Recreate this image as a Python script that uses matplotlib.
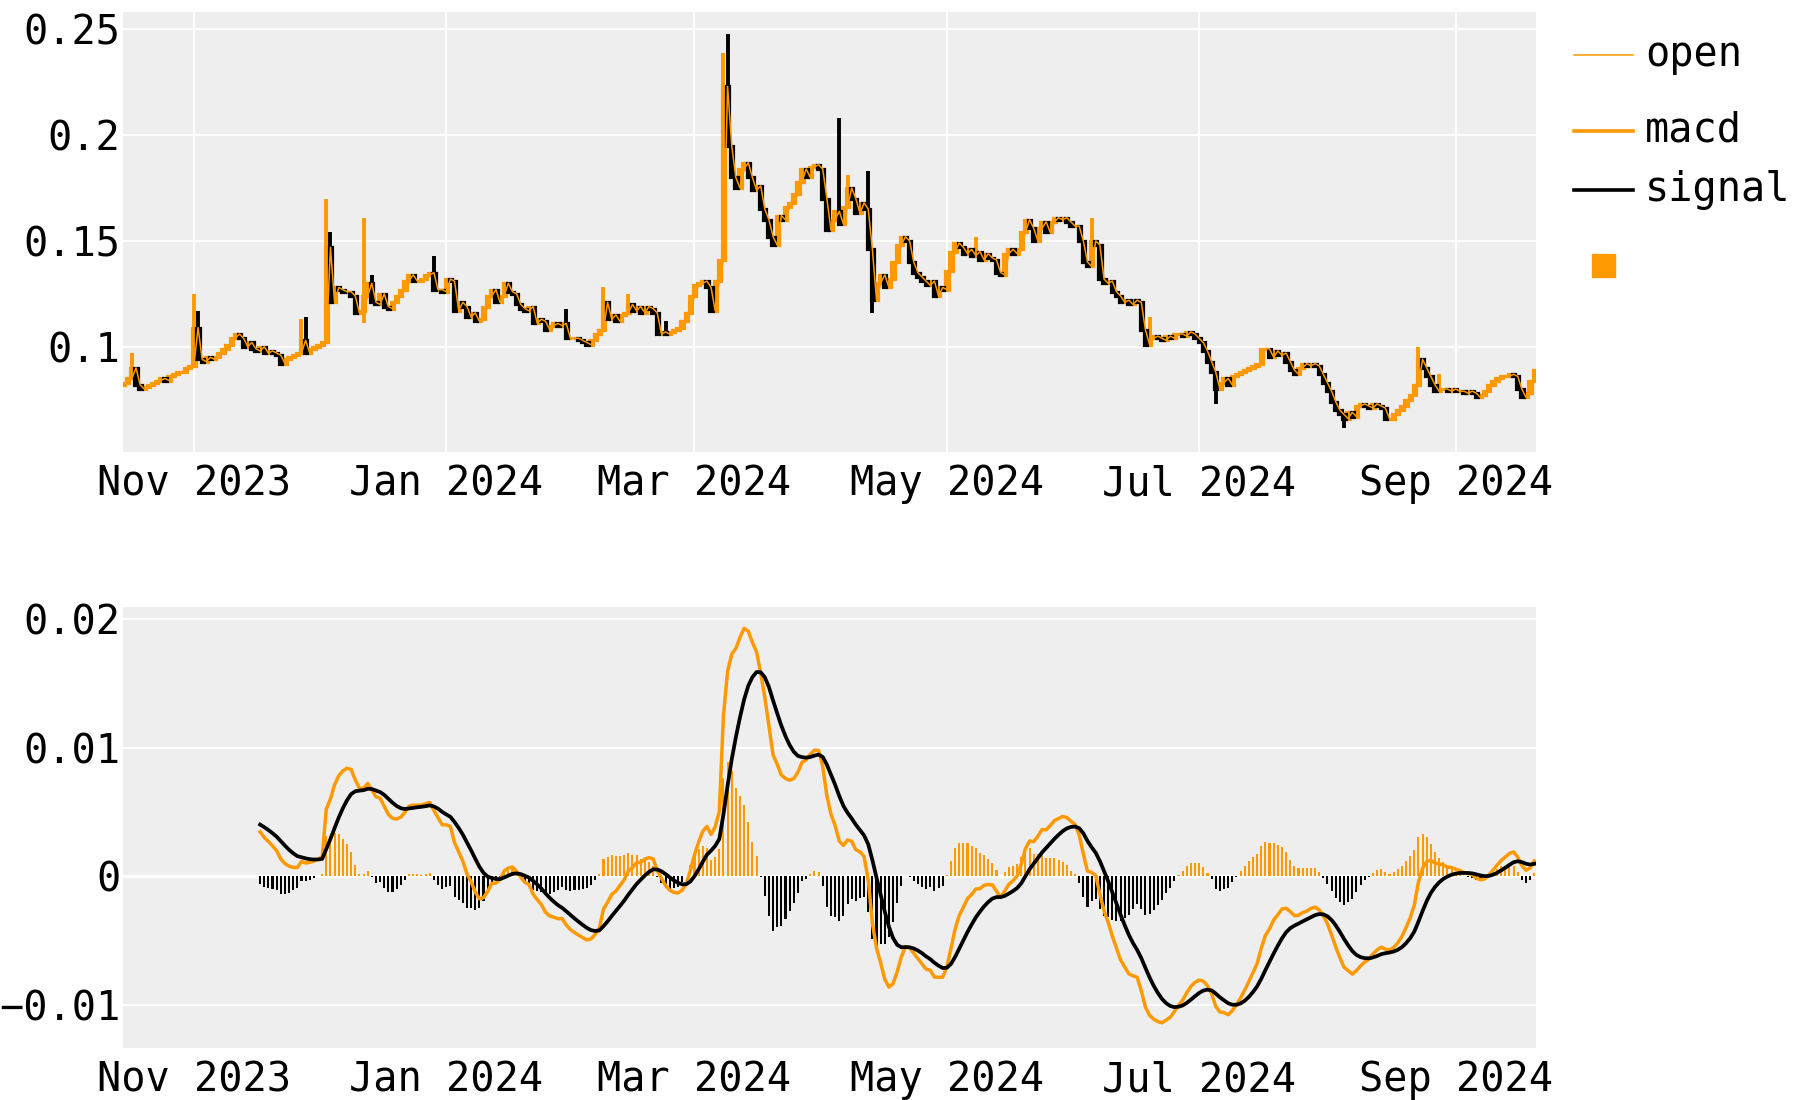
import matplotlib
matplotlib.use("Agg")
import matplotlib.pyplot as plt
import matplotlib.dates as mdates
from matplotlib.lines import Line2D
from matplotlib.patches import Rectangle
from matplotlib.ticker import FixedLocator, FuncFormatter
import numpy as np
import pandas as pd

# Daily closes, 15 Oct 2023 .. 20 Sep 2024
close_oct = [0.083, 0.085, 0.090, 0.082, 0.080, 0.081, 0.082, 0.083, 0.084, 0.085,
             0.084, 0.086, 0.087, 0.088, 0.088, 0.090, 0.091]
close_nov = [0.109, 0.094, 0.093, 0.095, 0.094, 0.095, 0.097, 0.099, 0.101, 0.104,
             0.106, 0.104, 0.100, 0.102, 0.099, 0.098, 0.100, 0.097, 0.098, 0.097,
             0.096, 0.092, 0.094, 0.095, 0.096, 0.097, 0.103, 0.097, 0.099, 0.100]
close_dec = [0.101, 0.102, 0.147, 0.121, 0.128, 0.127, 0.126, 0.126, 0.124, 0.116,
             0.117, 0.124, 0.130, 0.121, 0.120, 0.125, 0.119, 0.118, 0.121, 0.124,
             0.127, 0.131, 0.134, 0.131, 0.131, 0.132, 0.134, 0.135, 0.127, 0.127,
             0.126]
close_jan = [0.132, 0.131, 0.117, 0.121, 0.119, 0.114, 0.116, 0.112, 0.113, 0.119,
             0.124, 0.127, 0.121, 0.124, 0.130, 0.126, 0.125, 0.120, 0.118, 0.117,
             0.119, 0.111, 0.113, 0.112, 0.108, 0.110, 0.111, 0.110, 0.111, 0.104,
             0.104]
close_feb = [0.104, 0.103, 0.102, 0.101, 0.103, 0.106, 0.108, 0.121, 0.113, 0.115,
             0.112, 0.115, 0.116, 0.120, 0.117, 0.119, 0.116, 0.119, 0.118, 0.116,
             0.106, 0.107, 0.106, 0.107, 0.108, 0.109, 0.112, 0.116, 0.124]
close_mar = [0.129, 0.130, 0.131, 0.128, 0.117, 0.131, 0.141, 0.223, 0.195, 0.180,
             0.175, 0.184, 0.187, 0.180, 0.174, 0.176, 0.165, 0.160, 0.152, 0.148,
             0.162, 0.160, 0.166, 0.168, 0.172, 0.178, 0.184, 0.180, 0.185, 0.186,
             0.184]
close_apr = [0.170, 0.155, 0.160, 0.164, 0.158, 0.166, 0.175, 0.170, 0.163, 0.168,
             0.165, 0.146, 0.122, 0.130, 0.134, 0.128, 0.132, 0.140, 0.148, 0.152,
             0.150, 0.140, 0.135, 0.133, 0.131, 0.129, 0.131, 0.124, 0.128, 0.127]
close_may = [0.136, 0.145, 0.149, 0.147, 0.144, 0.146, 0.143, 0.145, 0.141, 0.144,
             0.142, 0.141, 0.135, 0.134, 0.144, 0.146, 0.144, 0.146, 0.154, 0.160,
             0.156, 0.150, 0.156, 0.159, 0.154, 0.159, 0.161, 0.160, 0.161, 0.159,
             0.157]
close_jun = [0.157, 0.150, 0.140, 0.138, 0.150, 0.148, 0.132, 0.130, 0.131, 0.126,
             0.124, 0.121, 0.122, 0.120, 0.122, 0.121, 0.108, 0.101, 0.104, 0.105,
             0.104, 0.103, 0.105, 0.104, 0.106, 0.106, 0.105, 0.107, 0.106, 0.104]
close_jul = [0.102, 0.098, 0.093, 0.088, 0.080, 0.083, 0.085, 0.082, 0.086, 0.087,
             0.088, 0.089, 0.090, 0.091, 0.092, 0.099, 0.099, 0.095, 0.098, 0.096,
             0.097, 0.093, 0.089, 0.087, 0.090, 0.092, 0.091, 0.092, 0.091, 0.087,
             0.083]
close_aug = [0.079, 0.074, 0.070, 0.068, 0.066, 0.069, 0.067, 0.072, 0.073, 0.072,
             0.071, 0.073, 0.072, 0.071, 0.066, 0.066, 0.068, 0.070, 0.072, 0.075,
             0.077, 0.082, 0.094, 0.090, 0.086, 0.082, 0.079, 0.080, 0.080, 0.079,
             0.080]
close_sep = [0.079, 0.079, 0.078, 0.079, 0.078, 0.076, 0.077, 0.079, 0.082, 0.084,
             0.085, 0.086, 0.086, 0.087, 0.086, 0.080, 0.076, 0.078, 0.084, 0.089]
first_open = 0.082

# wicks that stick out of the candle bodies
high_wicks = [("2023-10-17", 0.097), ("2023-11-01", 0.125), ("2023-11-02", 0.117),
              ("2023-11-27", 0.113), ("2023-11-28", 0.114), ("2023-12-03", 0.170),
              ("2023-12-04", 0.154), ("2023-12-12", 0.161), ("2023-12-14", 0.134),
              ("2023-12-29", 0.143), ("2024-01-30", 0.118), ("2024-02-08", 0.128),
              ("2024-02-14", 0.125), ("2024-02-23", 0.112), ("2024-03-08", 0.239),
              ("2024-03-09", 0.248), ("2024-04-05", 0.208), ("2024-04-07", 0.181),
              ("2024-04-12", 0.183), ("2024-05-08", 0.152), ("2024-06-05", 0.161),
              ("2024-06-19", 0.114), ("2024-08-23", 0.100), ("2024-08-28", 0.087)]
low_wicks = [("2023-12-12", 0.111), ("2024-03-05", 0.116), ("2024-04-13", 0.116),
             ("2024-07-05", 0.073), ("2024-08-05", 0.0615)]

ORANGE = "#ff9900"
BG = "#eeeeee"

closes = np.array(close_oct + close_nov + close_dec + close_jan + close_feb + close_mar
                  + close_apr + close_may + close_jun + close_jul + close_aug + close_sep)
dates = pd.date_range("2023-10-15", "2024-09-20", freq="D")
assert len(dates) == len(closes)

opens = np.concatenate([[first_open], closes[:-1]])
highs = pd.Series(np.maximum(opens, closes), index=dates)
lows = pd.Series(np.minimum(opens, closes), index=dates)
for d, v in high_wicks:
    highs[pd.Timestamp(d)] = v
for d, v in low_wicks:
    lows[pd.Timestamp(d)] = v

# MACD (12, 26, 9) on the close, first 33 rows dropped like the source
close_s = pd.Series(closes, index=dates)
macd = close_s.ewm(span=12, adjust=False).mean() - close_s.ewm(span=26, adjust=False).mean()
macd[:25] = np.nan
signal = macd.dropna().ewm(span=9, adjust=False).mean().reindex(dates)
macd[:33] = np.nan
signal[:33] = np.nan
hist = macd - signal

plt.rcParams["font.family"] = ["DejaVu Sans Mono"]
plt.rcParams["font.size"] = 29

fig = plt.figure(figsize=(18, 11), dpi=100)
ax1 = fig.add_axes([0.0683, 0.5894, 0.785, 0.3997])
ax2 = fig.add_axes([0.0683, 0.0475, 0.785, 0.4004])

x = mdates.date2num(dates.to_pydatetime())
up = closes >= opens

# candlesticks
for mask, col, z in [(up, ORANGE, 3), (~up, "black", 4)]:
    ax1.vlines(x[mask], lows.values[mask], highs.values[mask], color=col, lw=2.8, zorder=z)
    body_lo = np.minimum(opens, closes)[mask]
    body_h = np.abs(closes - opens)[mask]
    ax1.bar(x[mask], body_h, bottom=body_lo, width=0.8, color=col,
            edgecolor=col, linewidth=2.3, zorder=z)
ax1.plot(x, opens, color=ORANGE, lw=1.1, zorder=5)

# macd panel
hist_cols = [ORANGE if v >= 0 else "black" for v in hist.fillna(0).values]
ax2.axhline(0, color="white", lw=2.4, zorder=1)
ax2.bar(x, hist.values, width=0.5, color=hist_cols, zorder=2)
ax2.plot(x, macd.values, color=ORANGE, lw=2.5, zorder=3)
ax2.plot(x, signal.values, color="black", lw=2.7, zorder=4)

xmin = mdates.date2num(pd.Timestamp("2023-11-01")) - 17.16
xmax = mdates.date2num(pd.Timestamp("2024-09-01")) + 19.4
fmt = FuncFormatter(lambda v, _: f"{v:g}".replace("-", "\u2212"))

for ax in (ax1, ax2):
    ax.set_facecolor(BG)
    ax.set_xlim(xmin, xmax)
    ax.xaxis.set_major_locator(mdates.MonthLocator(bymonth=[1, 3, 5, 7, 9, 11]))
    ax.xaxis.set_major_formatter(mdates.DateFormatter("%b %Y"))
    ax.yaxis.set_major_formatter(fmt)
    ax.tick_params(axis="x", length=0, pad=9)
    ax.tick_params(axis="y", length=0, pad=2)
    for s in ax.spines.values():
        s.set_visible(False)
    ax.set_axisbelow(True)

ax1.set_ylim(0.0504, 0.2582)
ax1.yaxis.set_major_locator(FixedLocator([0.1, 0.15, 0.2, 0.25]))
ax1.grid(True, color="white", lw=1.5)

ax2.set_ylim(-0.01332, 0.0209)
ax2.yaxis.set_major_locator(FixedLocator([-0.01, 0, 0.01, 0.02]))
ax2.grid(True, axis="y", color="white", lw=1.5)

# legend drawn by hand, to the right of the top panel
def fy(py):
    return 1 - py / 1100

lx0, lx1, tx = 1574 / 1800, 1633 / 1800, 1645 / 1800
for py, col, lw, name in [(55, ORANGE, 1.1, "open"), (131, ORANGE, 2.6, "macd"),
                          (190, "black", 2.6, "signal")]:
    fig.add_artist(Line2D([lx0, lx1], [fy(py), fy(py)], color=col, lw=lw))
    fig.text(tx, fy(py), name, va="center", ha="left", fontsize=29)
fig.add_artist(Rectangle((1592 / 1800, fy(277)), 23 / 1800, 23 / 1100, color=ORANGE))

fig.savefig("out.png", dpi=100)
